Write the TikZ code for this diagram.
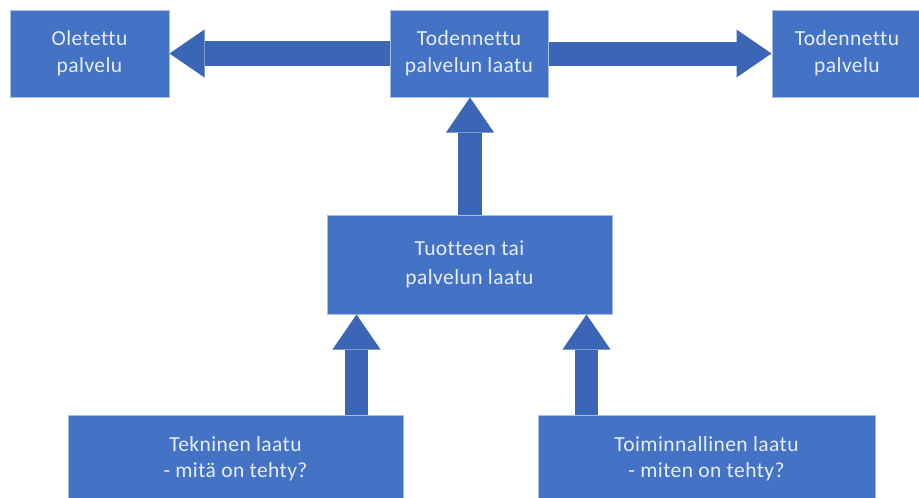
\documentclass[tikz,border=0pt]{standalone}
\usepackage{fontspec}
\setmainfont[Ligatures=NoCommon,LetterSpace=2]{Carlito}
\usetikzlibrary{arrows.meta}
\definecolor{boxblue}{HTML}{4472C4}
\definecolor{arrowblue}{HTML}{3B66B6}
\definecolor{boxedge}{HTML}{A6BCE3}
\definecolor{boxtext}{HTML}{E6EDF8}
\tikzset{
  qbox/.style={rectangle, fill=boxblue, draw=boxedge, line width=1pt,
    text=boxtext, align=center, inner sep=0pt,
    font=\fontsize{21.5}{26.5}\selectfont},
  blockarrow/.style={draw=arrowblue, line width=#1, line cap=butt,
    -{Triangle[width=48pt,length=35pt,line width=0pt]}},
}
\begin{document}
\begin{tikzpicture}[x=1pt,y=-1pt]
  \useasboundingbox (0,0) rectangle (919,498);
  \fill[white] (0,0) rectangle (919,498);

  % top row
  \node[qbox, minimum width=159pt, minimum height=87pt] (exp) at (89.5,53.5)
    {Oletettu\\palvelu};
  \node[qbox, minimum width=158pt, minimum height=87pt] (pq) at (469,53.5)
    {Todennettu\\palvelun laatu};
  \node[qbox, minimum width=150pt, minimum height=87pt] (act) at (847,53.5)
    {Todennettu\\palvelu};

  % middle box
  \node[qbox, minimum width=285pt, minimum height=99pt] (prod) at (469.5,264.5)
    {Tuotteen tai\\[2pt]palvelun laatu};

  % bottom row (runs past the lower edge)
  \node[qbox, minimum width=335pt, minimum height=88pt] (tech) at (235.5,459)
    {Tekninen laatu\\- mitä on tehty?};
  \node[qbox, minimum width=337pt, minimum height=88pt] (func) at (706.5,459)
    {Toiminnallinen laatu\\- miten on tehty?};

  % block arrows
  \draw[blockarrow=25pt] (pq.west) -- (exp.east);
  \draw[blockarrow=24pt] (pq.east) -- (act.west);
  \draw[blockarrow=24pt] (prod.north -| 470,0) -- (pq.south -| 470,0);
  \coordinate (techtop) at (356.5,415);
  \coordinate (functop) at (586.5,415);
  \draw[blockarrow=23pt] (techtop) -- (techtop |- prod.south);
  \draw[blockarrow=23pt] (functop) -- (functop |- prod.south);
\end{tikzpicture}
\end{document}
